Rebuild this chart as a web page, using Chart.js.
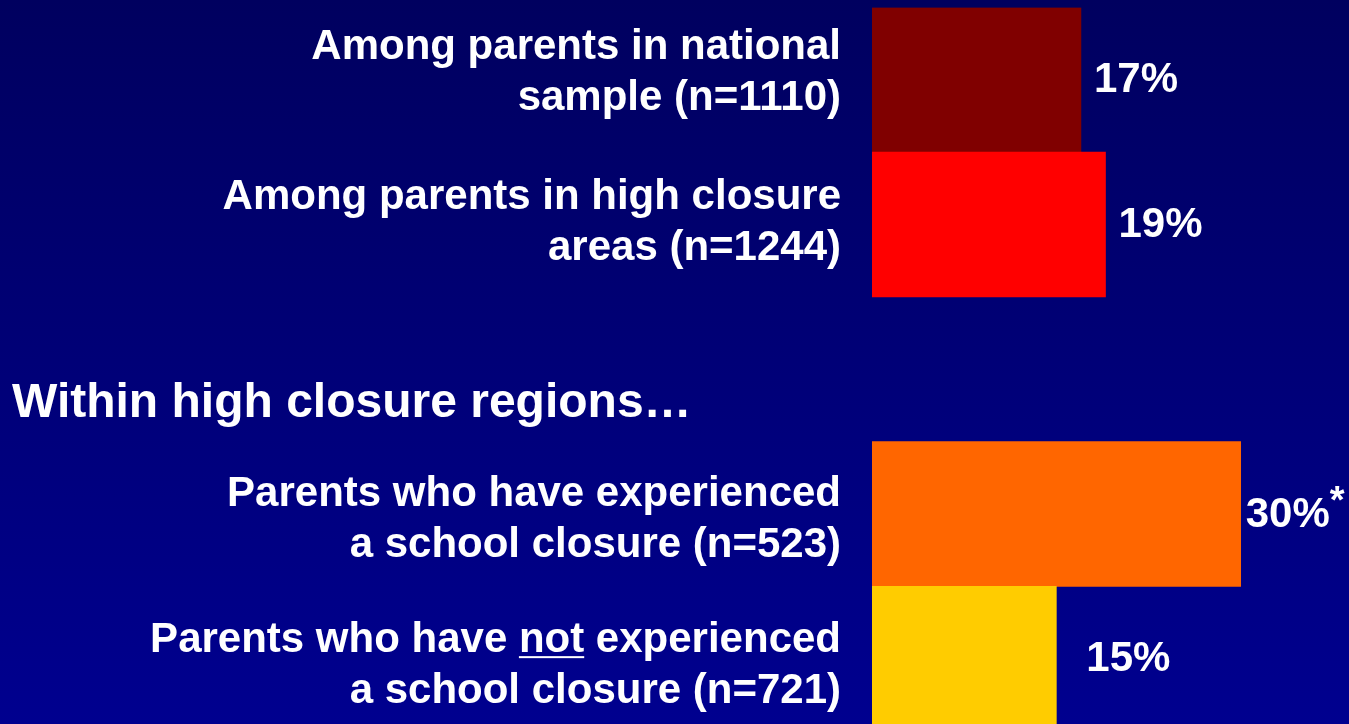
<!DOCTYPE html>
<html>
<head>
<meta charset="utf-8">
<script src="https://cdn.jsdelivr.net/npm/chart.js@4/dist/chart.umd.min.js"></script>
<style>
    html, body {
        margin: 0;
        padding: 0;
        overflow: hidden;
        width: 1349px;
        height: 724px;
        background: linear-gradient(#00005f, #00008f);
    }
    canvas { display: block; }
</style>
</head>
<body>
<canvas id="closureChart" width="1349" height="733"></canvas>
<script>
const categories = [
    ['Among parents in national', 'sample (n=1110)'],
    ['Among parents in high closure', 'areas (n=1244)'],
    '',
    ['Parents who have experienced', 'a school closure (n=523)'],
    ['Parents who have not experienced', 'a school closure (n=721)']
];
const percentages = [17, 19, null, 30, 15];
const notes = ['', '', '', '*', ''];
const barColors = ['#800000', '#ff0000', null, '#ff6600', '#ffcc00'];
const sectionTitle = 'Within high closure regions\u2026';

// small hand nudges to match the slide layout
const labelNudge = [-10, -5, 0, 3, 4];
const valueGap = [13, 13, 0, 5, 30];

const FONT = '"Liberation Sans", Arial, sans-serif';

const slideText = {
    id: 'slideText',
    afterDatasetsDraw(chart) {
        const ctx = chart.ctx;
        const x = chart.scales.x;
        const y = chart.scales.y;
        const right = chart.chartArea.left - 31;

        ctx.save();
        ctx.fillStyle = '#ffffff';

        categories.forEach((lines, i) => {
            const center = y.getPixelForValue(i);

            if (i === 2) {
                ctx.font = 'bold 48px ' + FONT;
                ctx.textAlign = 'left';
                ctx.textBaseline = 'alphabetic';
                ctx.fillText(sectionTitle, 12, center + 48);
                return;
            }

            ctx.font = 'bold 42px ' + FONT;
            ctx.textAlign = 'right';
            ctx.textBaseline = 'alphabetic';
            lines.forEach((line, j) => {
                const base = center + labelNudge[i] - 25.5 + j * 51 + 15;
                ctx.fillText(line, right, base);
                // "not" is underlined on the slide
                const k = line.indexOf(' not ');
                if (k >= 0) {
                    const left = right - ctx.measureText(line).width;
                    const x0 = left + ctx.measureText(line.slice(0, k + 1)).width;
                    const w = ctx.measureText('not').width;
                    ctx.fillRect(x0, base + 4, w, 2);
                }
            });

            const v = percentages[i];
            const vx = x.getPixelForValue(v) + valueGap[i];
            ctx.textAlign = 'left';
            ctx.textBaseline = 'middle';
            ctx.fillText(v + '%', vx, center + 1);
            if (notes[i]) {
                const tw = ctx.measureText(v + '%').width;
                ctx.font = 'bold 38px ' + FONT;
                ctx.textBaseline = 'alphabetic';
                ctx.fillText(notes[i], vx + tw, center - 1);
            }
        });
        ctx.restore();
    }
};

new Chart(document.getElementById('closureChart'), {
    type: 'bar',
    data: {
        labels: categories,
        datasets: [{
            data: percentages,
            backgroundColor: barColors,
            borderWidth: 0,
            barPercentage: 1,
            categoryPercentage: 1
        }]
    },
    options: {
        indexAxis: 'y',
        responsive: false,
        animation: false,
        layout: {
            padding: { left: 872, right: 10, top: 7.5, bottom: 2 }
        },
        scales: {
            x: { display: false, min: 0, max: 38 },
            y: { display: false }
        },
        plugins: {
            legend: { display: false },
            tooltip: { enabled: false }
        }
    },
    plugins: [slideText]
});
</script>
</body>
</html>
